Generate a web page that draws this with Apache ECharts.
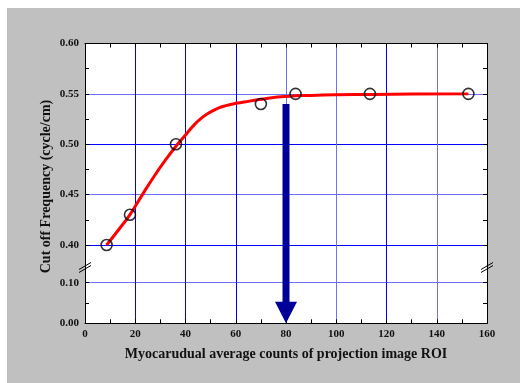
<!DOCTYPE html>
<html>
<head>
<meta charset="utf-8">
<script src="https://cdn.jsdelivr.net/npm/echarts@6/dist/echarts.min.js"></script>
<style>
html,body{margin:0;padding:0;background:#ffffff;}
#c{width:520px;height:383px;}
</style>
</head>
<body>
<div id="c"></div>
<script>
// ---- data ----
const pointsX = [8.6, 17.9, 36.2, 70, 83.8, 113.4, 152.6];
const pointsY = [0.40, 0.43, 0.50, 0.54, 0.55, 0.55, 0.55];
const curveX = [8.6, 13.3, 17.9, 22.6, 27.2, 31.8, 36.5, 40.0, 43.0, 46.2, 49.5, 52.8, 56.1, 60.0, 65.4, 73.6, 80.3, 90, 100, 115, 130, 152.6];
const curveY = [0.400, 0.4149, 0.4302, 0.4490, 0.4670, 0.4835, 0.4990, 0.5092, 0.5180, 0.5256, 0.5314, 0.5355, 0.5383, 0.5406, 0.5428, 0.5460, 0.5475, 0.5485, 0.5491, 0.5495, 0.5498, 0.55];
const arrowX = 80;
const arrowTopY = 0.54;   // top-panel value
const arrowTipY = 0.00;   // bottom-panel value
const xTitle = 'Myocarudual average counts of projection image ROI';
const yTitle = 'Cut off Frequency (cycle/cm)';

const FONT = 'Liberation Serif';
const DARK = '#0000ff', LIGHT = '#7070ff';
const lblStyle = {fontFamily: FONT, fontWeight: 'bold', fontSize: 11, color: '#111'};
const axLine = {show: true, lineStyle: {color: '#000', width: 1}};

const grids = [
  {left: 85, top: 43.5, width: 402, height: 201.5},
  {left: 85, top: 245, width: 402, height: 37.7},
  {left: 85, top: 282.7, width: 402, height: 40.6}
];
const vColors = [DARK, DARK, DARK, DARK, LIGHT, LIGHT, DARK, LIGHT, DARK];

function xAx(i, opts) {
  return Object.assign({
    type: 'value', gridIndex: i, min: 0, max: 160, interval: 20,
    axisLine: {show: false}, axisTick: {show: false}, axisLabel: {show: false},
    splitLine: {show: true, lineStyle: {color: vColors, width: 1}}
  }, opts);
}
function yAx(i, opts) {
  return Object.assign({
    type: 'value', gridIndex: i,
    axisLine: axLine, axisTick: {show: false}, axisLabel: {show: false},
    splitLine: {show: false}
  }, opts);
}

const xAxis = [
  xAx(0, {position: 'top', axisLine: axLine,
    axisTick: {show: true, inside: true, length: 4, lineStyle: {color: '#000'}},
    minorTick: {show: true, splitNumber: 2, length: 4, lineStyle: {color: '#000'}}}),
  xAx(1, {}),
  xAx(2, {position: 'bottom', axisLine: axLine,
    axisTick: {show: true, inside: true, length: 4, lineStyle: {color: '#000'}},
    minorTick: {show: true, splitNumber: 2, length: 4, lineStyle: {color: '#000'}},
    axisLabel: Object.assign({show: true, margin: 5}, lblStyle),
    name: xTitle, nameLocation: 'middle', nameGap: 24,
    nameTextStyle: {fontFamily: FONT, fontWeight: 'bold', fontSize: 14, color: '#111'}})
];

const tickIn = {show: true, inside: true, length: 4, lineStyle: {color: '#000'}};
const minorIn = {show: true, splitNumber: 2, length: 4, lineStyle: {color: '#000'}};
const yAxis = [
  yAx(0, {position: 'left', min: 0.40, max: 0.60, interval: 0.05, axisTick: tickIn, minorTick: minorIn,
    axisLabel: Object.assign({show: true, margin: 6, formatter: v => v.toFixed(2)}, lblStyle),
    splitLine: {show: true, lineStyle: {color: [DARK, LIGHT, DARK, LIGHT, DARK], width: 1}}}),
  yAx(0, {position: 'right', min: 0.40, max: 0.60, interval: 0.05, axisTick: tickIn, minorTick: minorIn}),
  yAx(1, {position: 'left', min: 0, max: 1}),
  yAx(1, {position: 'right', min: 0, max: 1}),
  yAx(2, {position: 'left', min: 0, max: 0.10, interval: 0.10, axisTick: tickIn, minorTick: minorIn,
    axisLabel: Object.assign({show: true, margin: 6, formatter: v => v.toFixed(2)}, lblStyle),
    splitLine: {show: true, lineStyle: {color: [DARK, LIGHT], width: 1}}}),
  yAx(2, {position: 'right', min: 0, max: 0.10, interval: 0.10, axisTick: tickIn, minorTick: minorIn})
];

const chart = echarts.init(document.getElementById('c'), null, {renderer: 'canvas'});
chart.setOption({
  animation: false,
  backgroundColor: '#ffffff',
  grid: grids,
  xAxis: xAxis,
  yAxis: yAxis,
  series: [
    {type: 'line', xAxisIndex: 0, yAxisIndex: 0, data: curveX.map((x, i) => [x, curveY[i]]),
      smooth: 0.5, showSymbol: false, symbol: 'none',
      lineStyle: {color: '#ff0000', width: 3}, z: 3},
    {type: 'scatter', xAxisIndex: 0, yAxisIndex: 0, data: pointsX.map((x, i) => [x, pointsY[i]]),
      symbol: 'circle', symbolSize: 11,
      itemStyle: {color: 'rgba(0,0,0,0)', borderColor: '#000', borderWidth: 1.6}, z: 4}
  ]
});

// overlay: background panel, arrow, break marks, y title
const pTop = chart.convertToPixel({xAxisIndex: 0, yAxisIndex: 0}, [arrowX, arrowTopY]);
const pTip = chart.convertToPixel({xAxisIndex: 2, yAxisIndex: 4}, [arrowX, arrowTipY]);
const cx = pTip[0];
const shaftW = 7, headW = 22, headH = 21.5;
const brk = (x, y) => [
  {type: 'line', shape: {x1: x - 6, y1: y + 4, x2: x + 6, y2: y - 3}, style: {stroke: '#000', lineWidth: 1}, z: 100},
  {type: 'line', shape: {x1: x - 6, y1: y + 7, x2: x + 6, y2: y}, style: {stroke: '#000', lineWidth: 1}, z: 100}
];
chart.setOption({
  graphic: [
    {type: 'rect', shape: {x: 7, y: 8, width: 513, height: 375}, style: {fill: '#c0c0c0'}, z: -10, silent: true},
    {type: 'rect', shape: {x: 85, y: 43.5, width: 402, height: 279.8}, style: {fill: '#ffffff'}, z: -9, silent: true},
    {type: 'polygon', shape: {points: [
      [cx - shaftW / 2, pTop[1]], [cx + shaftW / 2, pTop[1]],
      [cx + shaftW / 2, pTip[1] - headH], [cx + headW / 2, pTip[1] - headH],
      [cx, pTip[1]], [cx - headW / 2, pTip[1] - headH],
      [cx - shaftW / 2, pTip[1] - headH]
    ]}, style: {fill: '#000099'}, z: 100},
    ...brk(85, 265.5),
    ...brk(487, 265.5),
    {type: 'text', x: 46, y: 186.5, rotation: Math.PI / 2,
      style: {text: yTitle, fontFamily: FONT, fontWeight: 'bold', fontSize: 14, fill: '#111',
        align: 'center', verticalAlign: 'middle'}, z: 100}
  ]
});
</script>
</body>
</html>
